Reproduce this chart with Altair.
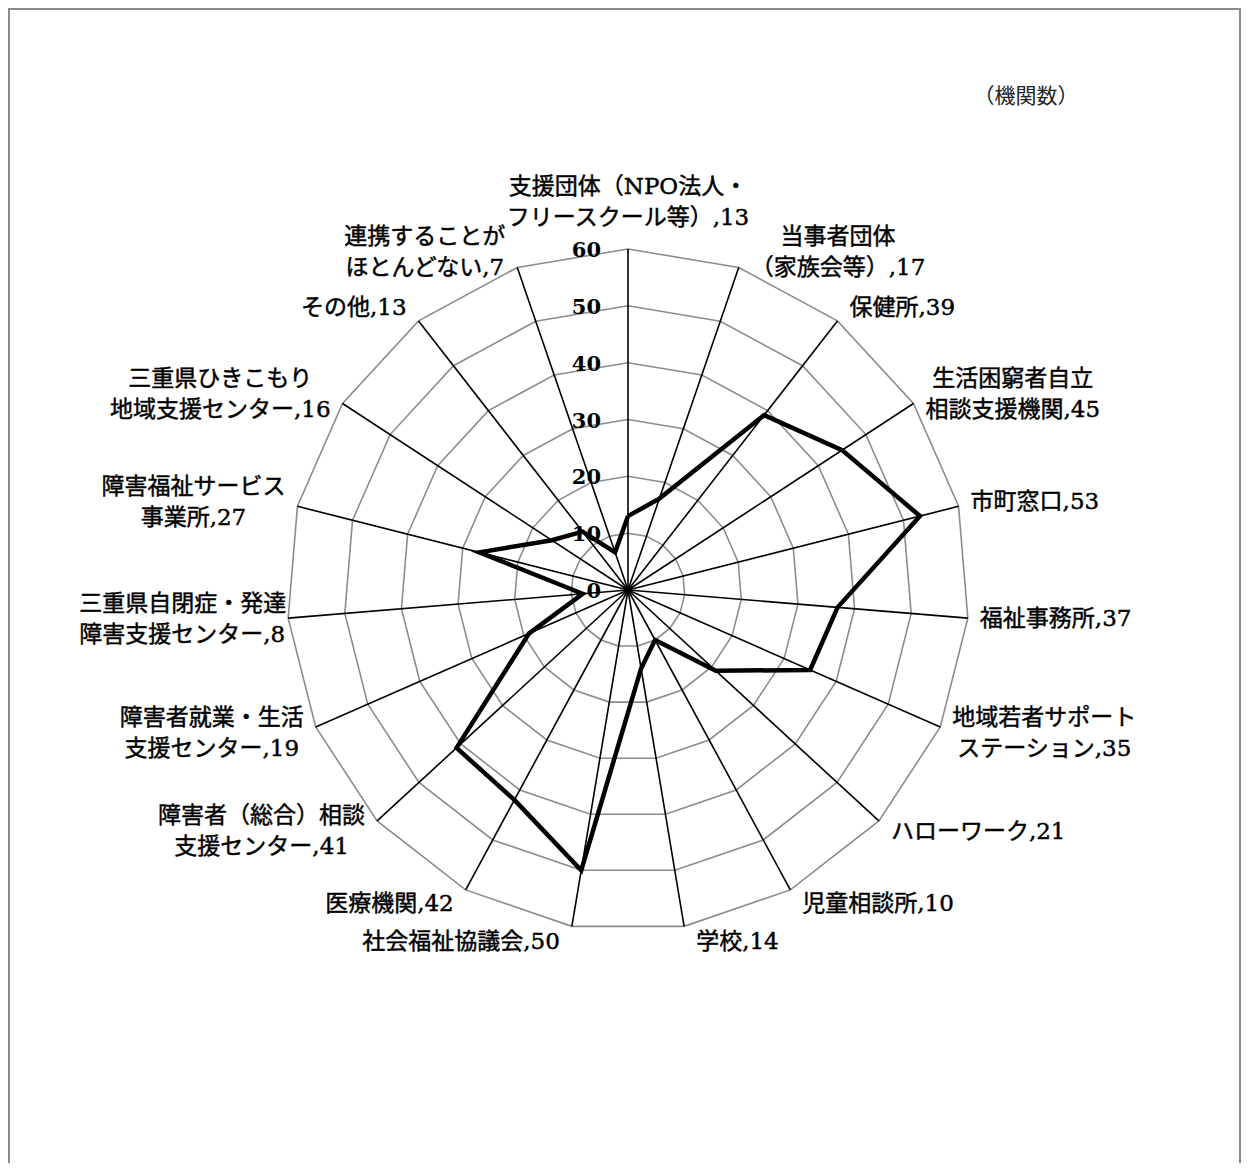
import altair as alt
import pandas as pd

# ---- data ----
categories = [
    "支援団体（NPO法人・\nフリースクール等）",
    "当事者団体\n（家族会等）",
    "保健所",
    "生活困窮者自立\n相談支援機関",
    "市町窓口",
    "福祉事務所",
    "地域若者サポート\nステーション",
    "ハローワーク",
    "児童相談所",
    "学校",
    "社会福祉協議会",
    "医療機関",
    "障害者（総合）相談\n支援センター",
    "障害者就業・生活\n支援センター",
    "三重県自閉症・発達\n障害支援センター",
    "障害福祉サービス\n事業所",
    "三重県ひきこもり\n地域支援センター",
    "その他",
    "連携することが\nほとんどない",
]
values = [13, 17, 39, 45, 53, 37, 35, 21, 10, 14, 50, 42, 41, 19, 8, 27, 16, 13, 7]
levels = [0, 10, 20, 30, 40, 50, 60]
unit_note = "（機関数）"

# ---- layout constants ----
N = len(categories)
W, H = 1233, 1155
CX, CY = 620, 582          # centre of the radar in plot pixels
RMAX = 60
S = 341 / RMAX             # pixels per unit
FS = 23                    # label font size
LH = 31                    # label line height
FONT = "DejaVu Serif, Noto Sans CJK JP"
LEFT_ALIGNED = 14          # the one label whose lines are left-aligned

xs = alt.Scale(domain=[-CX / S, (W - CX) / S], nice=False, zero=False)
ys = alt.Scale(domain=[-(H - CY) / S, CY / S], nice=False, zero=False)

ANG = f"datum.k * 2 * PI / {N}"

# ---- tables built from the arrays ----
df_pts = pd.DataFrame({"k": list(range(N)) + [N], "v": values + [values[0]]})
df_grid = pd.DataFrame([{"level": lv, "k": k} for lv in levels for k in range(N + 1)])
df_spk = pd.DataFrame({"k": list(range(N))})
df_ticks = pd.DataFrame({"level": levels, "t": [str(l) for l in levels]})


def char_w(c):
    if ord(c) >= 0x2E80 or c in "（）・":
        return FS
    if c.isdigit():
        return 0.636 * FS
    if c == ",":
        return 0.318 * FS
    if c.isupper():
        return 0.76 * FS
    return 0.55 * FS


labels = [f"{c},{v}" for c, v in zip(categories, values)]
half_w = [max(sum(char_w(ch) for ch in line) for line in lab.split("\n")) / 2 for lab in labels]
n_lines = [len(lab.split("\n")) for lab in labels]
df_lab = pd.DataFrame({"k": list(range(N)), "label": labels, "hw": half_w, "n": n_lines})

X = lambda f: alt.X(f, scale=xs, axis=None)
Y = lambda f: alt.Y(f, scale=ys, axis=None)

grid = alt.Chart(df_grid).transform_calculate(
    a=ANG
).transform_calculate(
    gx="datum.level * sin(datum.a)", gy="datum.level * cos(datum.a)"
).mark_line(color="#8c8c8c", strokeWidth=1.6).encode(
    x=X("gx:Q"), y=Y("gy:Q"), detail="level:N", order="k:Q"
)

spokes = alt.Chart(df_spk).transform_calculate(
    a=ANG
).transform_calculate(
    x0="0", y0="0", x1=f"{RMAX} * sin(datum.a)", y1=f"{RMAX} * cos(datum.a)"
).mark_rule(color="black", strokeWidth=1.6).encode(
    x=X("x0:Q"), y=Y("y0:Q"), x2="x1:Q", y2="y1:Q"
)

line = alt.Chart(df_pts).transform_calculate(
    a=ANG
).transform_calculate(
    px="datum.v * sin(datum.a)", py="datum.v * cos(datum.a)"
).mark_line(color="black", strokeWidth=4.5, strokeJoin="miter", strokeMiterLimit=6).encode(
    x=X("px:Q"), y=Y("py:Q"), order="k:Q"
)

ticks = alt.Chart(df_ticks).transform_calculate(
    tx=f"-27 / {S}"
).mark_text(align="right", baseline="middle", dy=2, font=FONT, fontSize=21,
            fontWeight="bold", color="black").encode(
    x=X("tx:Q"), y=Y("level:Q"), text="t:N"
)

lab_base = alt.Chart(df_lab).transform_calculate(
    a=ANG
).transform_calculate(
    sx="sin(datum.a)", cy="cos(datum.a)"
).transform_calculate(
    # y of the first line: block centre moved up by half of the extra lines
    ly=(f"(abs(datum.sx) < 0.05 ? {RMAX} + 47 / {S} : {RMAX} * datum.cy + 16 * datum.cy / {S})"
        f" + (datum.n - 1) * {LH / 2} / {S}"),
)

TEXT_STYLE = dict(baseline="middle", lineBreak="\n", lineHeight=LH, font=FONT,
                  fontSize=FS, color="black", stroke="black", strokeWidth=0.45)

lab_c = lab_base.transform_filter(f"datum.k != {LEFT_ALIGNED}").transform_calculate(
    lx=f"abs(datum.sx) < 0.05 ? 0 : {RMAX} * datum.sx + (datum.sx > 0 ? 1 : -1) * (12 + datum.hw) / {S}",
).mark_text(align="center", **TEXT_STYLE).encode(x=X("lx:Q"), y=Y("ly:Q"), text="label:N")

lab_l = lab_base.transform_filter(f"datum.k == {LEFT_ALIGNED}").transform_calculate(
    lx=f"{RMAX} * datum.sx - (2 + 2 * datum.hw) / {S}",
).mark_text(align="left", **TEXT_STYLE).encode(x=X("lx:Q"), y=Y("ly:Q"), text="label:N")

note = alt.Chart(pd.DataFrame({"t": [unit_note]})).mark_text(
    align="center", baseline="middle", font="Noto Sans CJK JP", fontSize=21, color="#222"
).encode(x=alt.value(1018), y=alt.value(89), text="t:N")

one = pd.DataFrame({"a": [0]})
b_left = alt.Chart(one).mark_rule(color="#8a8a8a", strokeWidth=2).encode(
    x=alt.value(1), y=alt.value(0), y2=alt.value(H))
b_right = alt.Chart(one).mark_rule(color="#8a8a8a", strokeWidth=2).encode(
    x=alt.value(W - 1), y=alt.value(0), y2=alt.value(H))
b_top = alt.Chart(one).mark_rule(color="#8a8a8a", strokeWidth=2).encode(
    y=alt.value(1), x=alt.value(0), x2=alt.value(W))

chart = alt.layer(
    grid, spokes, line, ticks, lab_c, lab_l, note, b_left, b_right, b_top
).properties(
    width=W, height=H, padding=0, autosize=alt.AutoSizeParams(type="none")
).configure_view(stroke=None)

chart.save("out.html", embed_options={"renderer": "svg", "actions": False})
